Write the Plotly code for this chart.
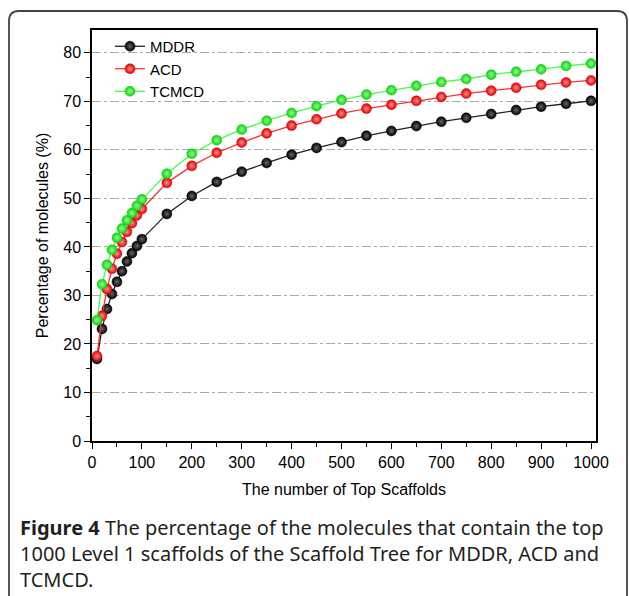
import plotly.graph_objects as go

x_vals = [10, 20, 30, 40, 50, 60, 70, 80, 90, 100,
          150, 200, 250, 300, 350, 400, 450, 500, 550, 600,
          650, 700, 750, 800, 850, 900, 950, 1000]

mddr = [16.9, 23.1, 27.2, 30.3, 32.8, 35.0, 37.0, 38.7, 40.2, 41.6,
        46.8, 50.5, 53.4, 55.5, 57.3, 59.0, 60.4, 61.6, 62.9, 63.9,
        64.9, 65.8, 66.6, 67.4, 68.2, 68.9, 69.5, 70.1]

acd = [17.5, 25.8, 31.3, 35.5, 38.6, 41.0, 43.1, 44.9, 46.5, 47.8,
       53.2, 56.7, 59.4, 61.5, 63.4, 65.0, 66.3, 67.5, 68.5, 69.3,
       70.1, 70.9, 71.6, 72.2, 72.8, 73.4, 73.9, 74.3]

tcmcd = [24.9, 32.3, 36.3, 39.4, 41.9, 43.8, 45.5, 47.0, 48.5, 49.8,
         55.1, 59.2, 62.0, 64.2, 66.0, 67.6, 69.0, 70.3, 71.4, 72.3,
         73.2, 74.0, 74.6, 75.5, 76.1, 76.6, 77.3, 77.8]

series = [
    ("MDDR", mddr, "#222222", "#000000", "#666666"),
    ("ACD", acd, "#ff3030", "#e00000", "#ff9090"),
    ("TCMCD", tcmcd, "#40ff40", "#10d010", "#90ff90"),
]

fig = go.Figure()
for name, ys, lc, mc, hc in series:
    fig.add_trace(go.Scatter(
        x=x_vals, y=ys, name=name, mode="lines+markers",
        line=dict(color=lc, width=1.3),
        marker=dict(size=10, color=mc, line=dict(color=mc, width=0.5),
                    gradient=dict(type="radial", color=hc)),
    ))

W, H = 629, 596
L, R, T, B = 92, 596, 30, 441

def px(xp):
    return (xp - L) / (R - L)

def py(yp):
    return (B - yp) / (B - T)

AF = "Liberation Sans, Arial, sans-serif"
axis_font = dict(family=AF, size=16, color="#000000")

fig.update_layout(
    width=W, height=H,
    margin=dict(l=L, r=W - R, t=T, b=H - B),
    paper_bgcolor="white", plot_bgcolor="white",
    font=axis_font,
    showlegend=True,
    legend=dict(x=px(110), y=py(30), xanchor="left", yanchor="top",
                bgcolor="rgba(0,0,0,0)", font=dict(family=AF, size=15, color="#000"),
                itemwidth=30, tracegroupgap=0),
    xaxis=dict(range=[0, 1010], tickmode="array",
               tickvals=[0, 100, 200, 300, 400, 500, 600, 700, 800, 900, 1000],
               ticks="outside", ticklen=6, tickwidth=1.2, tickcolor="#000",
               minor=dict(tickvals=[50, 150, 250, 350, 450, 550, 650, 750, 850, 950],
                          ticks="outside", ticklen=4, tickcolor="#000", tickwidth=1.2),
               showline=True, linecolor="#000", linewidth=1.5, mirror=True,
               showgrid=False, zeroline=False,
               title=dict(text="The number of Top Scaffolds", standoff=14,
                          font=dict(family=AF, size=16)),
               tickfont=dict(family=AF, size=16)),
    yaxis=dict(range=[0, 84.7], tickmode="array",
               tickvals=[0, 10, 20, 30, 40, 50, 60, 70, 80],
               ticks="outside", ticklen=6, tickwidth=1.2, tickcolor="#000",
               minor=dict(tickvals=[5, 15, 25, 35, 45, 55, 65, 75],
                          ticks="outside", ticklen=4, tickcolor="#000", tickwidth=1.2),
               showline=True, linecolor="#000", linewidth=1.5, mirror=True,
               showgrid=True, gridcolor="#aaaaaa", gridwidth=1, griddash="dashdot",
               zeroline=False,
               title=dict(text="Percentage of molecules (%)", standoff=11,
                          font=dict(family=AF, size=16)),
               tickfont=dict(family=AF, size=16)),
)

# outer rounded frame
x0, x1, y0, y1, r = px(9), px(627), py(11), py(600), 10
rx = r / (R - L)
ry = r / (B - T)
path = (f"M {x0},{y1} L {x0},{y0 - ry} Q {x0},{y0} {x0 + rx},{y0} "
        f"L {x1 - rx},{y0} Q {x1},{y0} {x1},{y0 - ry} L {x1},{y1}")
fig.add_shape(type="path", xref="paper", yref="paper", path=path,
              line=dict(color="#444444", width=1.8))

cap_font = dict(family="Noto Sans, Open Sans, sans-serif", size=20, color="#231f20")
lines = [
    "<b>Figure 4</b> The percentage of the molecules that contain the top",
    "1000 Level 1 scaffolds of the Scaffold Tree for MDDR, ACD and",
    "TCMCD.",
]
for i, t in enumerate(lines):
    fig.add_annotation(text=t, xref="paper", yref="paper",
                       x=px(18), y=py(527 + 26 * i), xanchor="left", yanchor="middle",
                       showarrow=False, font=cap_font, align="left")

fig.write_html("out.html", config={"displayModeBar": False},
               post_script="document.body.style.margin='0';document.body.style.overflow='hidden';")
